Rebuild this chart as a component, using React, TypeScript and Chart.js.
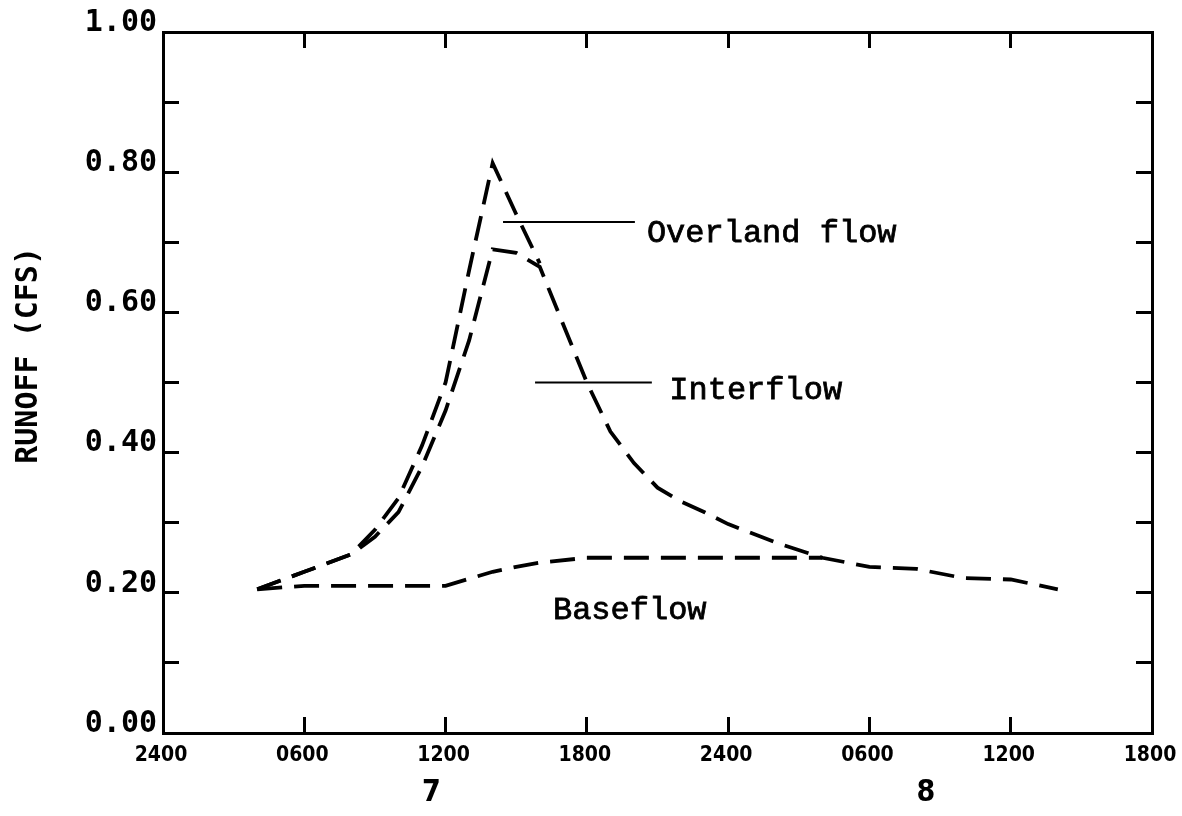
import React, { useEffect, useRef } from 'react';
import { Chart, registerables } from 'chart.js';

Chart.register(...registerables);

// ---- axis data ----
const xTickHours = [0, 6, 12, 18, 24, 30, 36, 42];
const xTickLabels = ['2400', '0600', '1200', '1800', '2400', '0600', '1200', '1800'];
const dayLabelHours = [11.4, 32.4];
const dayLabels = ['7', '8'];
const yMin = 0;
const yMax = 1;
const yStep = 0.1;
const yTitle = '   RUNOFF (CFS)';

// ---- series (hours after 2400 of day 6, runoff in cfs) ----
const overlandHours = [4, 6, 8, 9, 10, 11, 12, 13, 14, 15, 16];
const overlandValues = [0.205, 0.23, 0.255, 0.29, 0.335, 0.41, 0.5, 0.66, 0.813, 0.74, 0.67];

const interflowHours = [4, 6, 8, 9, 10, 11, 12, 13, 14, 15, 16, 18, 19, 20, 21, 22, 23, 24, 26, 28, 30, 32, 34, 36, 38];
const interflowValues = [0.205, 0.23, 0.255, 0.28, 0.315, 0.38, 0.46, 0.56, 0.69, 0.685, 0.665, 0.5, 0.43, 0.385, 0.35, 0.33, 0.315, 0.298, 0.272, 0.25, 0.237, 0.234, 0.221, 0.219, 0.205];

const baseflowHours = [4, 6, 8, 10, 12, 13, 14, 15, 16, 18, 20, 22, 24, 26, 28];
const baseflowValues = [0.205, 0.21, 0.21, 0.21, 0.21, 0.22, 0.23, 0.237, 0.243, 0.25, 0.25, 0.25, 0.25, 0.25, 0.25];

// ---- annotations ----
const annotationLabels = ['Overland flow', 'Interflow', 'Baseflow'];
const annotationTextHours = [20.55, 21.5, 16.56];
const annotationTextValues = [0.713, 0.489, 0.175];
const leaderStartHours = [14.44, 15.8];
const leaderEndHours = [20.04, 20.76];
const leaderValues = [0.729, 0.5];

const toPoints = (xs: number[], ys: number[]) => xs.map((h, i) => ({ x: h, y: ys[i] }));

const annotationPlugin = {
  id: 'runoffAnnotations',
  afterDatasetsDraw(chart: any) {
    const { ctx, scales } = chart;
    const x = scales.x;
    const y = scales.y;
    ctx.save();
    ctx.fillStyle = '#000';
    ctx.strokeStyle = '#000';
    ctx.lineWidth = 0.8;
    ctx.font = "32px 'Liberation Mono', 'Courier New', monospace";
    ctx.textBaseline = 'middle';
    ctx.textAlign = 'left';
    annotationLabels.forEach((t, i) => {
      const px = x.getPixelForValue(annotationTextHours[i]);
      const py = y.getPixelForValue(annotationTextValues[i]);
      ctx.fillText(t, px, py);
      ctx.strokeText(t, px, py);
    });
    ctx.restore();
  },
};

const clearPadding = (scale: any) => {
  scale.paddingTop = 0;
  scale.paddingBottom = 0;
  scale.paddingLeft = 0;
  scale.paddingRight = 0;
};

export default function App() {
  const canvasRef = useRef<HTMLCanvasElement | null>(null);

  useEffect(() => {
    document.body.style.margin = '0';
    const canvas = canvasRef.current;
    if (!canvas) return;

    const dashed = {
      borderColor: '#000',
      borderWidth: 3.8,
      borderDash: [25, 12],
      pointRadius: 0,
      tension: 0,
      fill: false,
    };
    const leader = {
      borderColor: '#000',
      borderWidth: 2,
      pointRadius: 0,
      tension: 0,
      fill: false,
    };

    const frameGrid = {
      display: true,
      drawOnChartArea: false,
      drawTicks: true,
      tickLength: -16,
      color: '#000',
      lineWidth: 3,
    };
    const frameBorder = { display: true, color: '#000', width: 3 };

    const chart = new Chart(canvas, {
      type: 'line',
      data: {
        datasets: [
          { label: 'Overland flow', data: toPoints(overlandHours, overlandValues), ...dashed },
          { label: 'Interflow', data: toPoints(interflowHours, interflowValues), ...dashed },
          { label: 'Baseflow', data: toPoints(baseflowHours, baseflowValues), ...dashed },
          {
            label: 'Overland leader',
            data: [
              { x: leaderStartHours[0], y: leaderValues[0] },
              { x: leaderEndHours[0], y: leaderValues[0] },
            ],
            ...leader,
          },
          {
            label: 'Interflow leader',
            data: [
              { x: leaderStartHours[1], y: leaderValues[1] },
              { x: leaderEndHours[1], y: leaderValues[1] },
            ],
            ...leader,
          },
        ],
      },
      options: {
        responsive: false,
        animation: false,
        devicePixelRatio: 1,
        layout: { padding: 0 },
        plugins: {
          legend: { display: false },
          tooltip: { enabled: false },
          title: { display: false },
        },
        scales: {
          x: {
            type: 'linear',
            position: 'bottom',
            min: xTickHours[0],
            max: xTickHours[xTickHours.length - 1],
            weight: 0,
            afterBuildTicks: (scale: any) => {
              scale.ticks = xTickHours.map((v) => ({ value: v }));
            },
            afterFit: (scale: any) => {
              scale.height = 40;
              clearPadding(scale);
            },
            grid: frameGrid,
            border: frameBorder,
            ticks: {
              autoSkip: false,
              maxRotation: 0,
              padding: 26,
              labelOffset: -2,
              color: '#000',
              font: { family: "'DejaVu Sans Condensed', 'Liberation Sans Narrow', 'DejaVu Sans', sans-serif", weight: 'bold', size: 21, lineHeight: 1.2 },
              callback: (v: any) => xTickLabels[xTickHours.indexOf(Number(v))] ?? '',
            },
          },
          xDay: {
            type: 'linear',
            position: 'bottom',
            min: xTickHours[0],
            max: xTickHours[xTickHours.length - 1],
            weight: 1,
            afterBuildTicks: (scale: any) => {
              scale.ticks = dayLabelHours.map((v) => ({ value: v }));
            },
            afterFit: (scale: any) => {
              scale.height = 43;
              clearPadding(scale);
            },
            grid: { display: false, drawTicks: false },
            border: { display: false },
            ticks: {
              autoSkip: false,
              maxRotation: 0,
              padding: 5,
              color: '#000',
              font: { family: "'DejaVu Sans Condensed', 'DejaVu Sans', sans-serif", weight: 'bold', size: 30, lineHeight: 1 },
              callback: (v: any) => dayLabels[dayLabelHours.indexOf(Number(v))] ?? '',
            },
          },
          xTop: {
            type: 'linear',
            position: 'top',
            min: xTickHours[0],
            max: xTickHours[xTickHours.length - 1],
            afterBuildTicks: (scale: any) => {
              scale.ticks = xTickHours.map((v) => ({ value: v }));
            },
            afterFit: (scale: any) => {
              scale.height = 32;
              clearPadding(scale);
            },
            grid: frameGrid,
            border: frameBorder,
            ticks: { display: false },
          },
          y: {
            type: 'linear',
            position: 'left',
            min: yMin,
            max: yMax,
            afterFit: (scale: any) => {
              scale.width = 163;
              clearPadding(scale);
            },
            grid: frameGrid,
            border: frameBorder,
            ticks: {
              stepSize: yStep,
              autoSkip: false,
              padding: 22,
              labelOffset: -9,
              color: '#000',
              font: { family: "'DejaVu Sans Mono', monospace", weight: 'bold', size: 30, lineHeight: 1.2 },
              callback: (v: any) => (Math.round(Number(v) * 10) % 2 === 0 ? Number(v).toFixed(2) : ''),
            },
            title: {
              display: true,
              text: yTitle,
              color: '#000',
              padding: { top: 14, bottom: 0 },
              font: { family: "'DejaVu Sans Mono', monospace", weight: 'bold', size: 30, lineHeight: 1 },
            },
          },
          yRight: {
            type: 'linear',
            position: 'right',
            min: yMin,
            max: yMax,
            afterFit: (scale: any) => {
              scale.width = 30;
              clearPadding(scale);
            },
            grid: frameGrid,
            border: frameBorder,
            ticks: { stepSize: yStep, display: false },
          },
        },
      },
      plugins: [annotationPlugin],
    } as any);

    return () => {
      chart.destroy();
    };
  }, []);

  return <canvas ref={canvasRef} width={1182} height={816} style={{ display: 'block' }} />;
}
